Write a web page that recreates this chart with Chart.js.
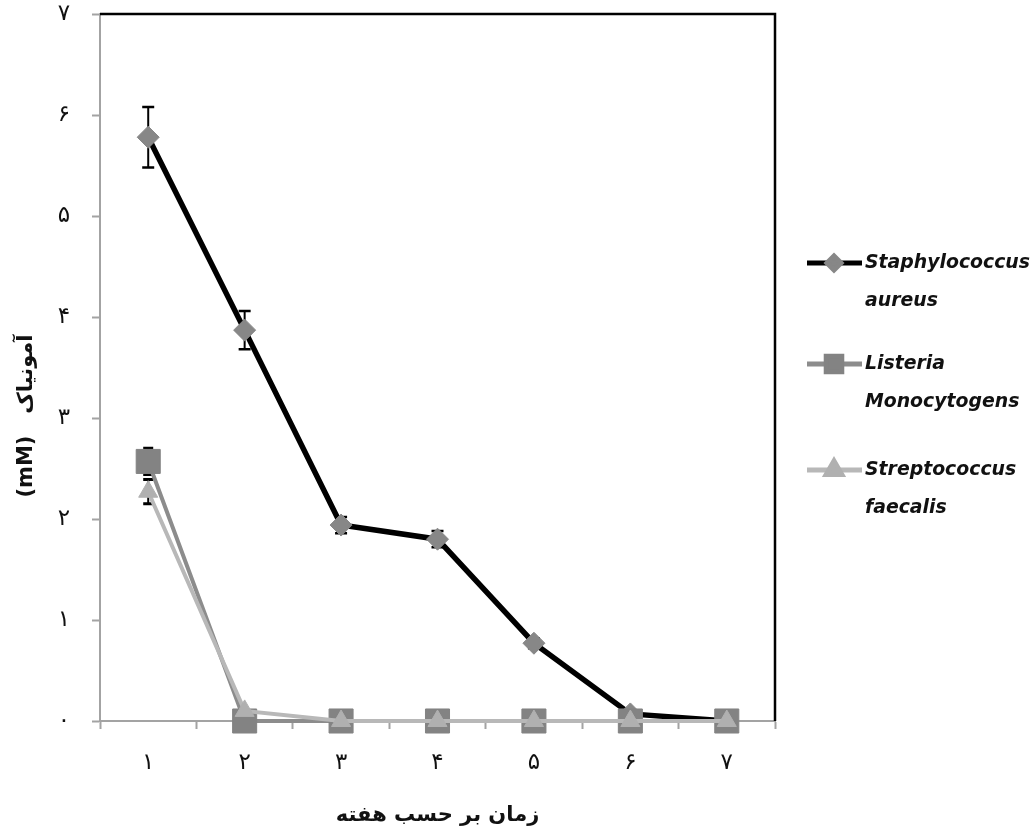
<!DOCTYPE html>
<html>
<head>
<meta charset="utf-8">
<script src="https://cdn.jsdelivr.net/npm/chart.js@4.4.1/dist/chart.umd.min.js"></script>
<style>
  html, body { margin: 0; padding: 0; background: #fff; }
</style>
</head>
<body>
<canvas id="chart" width="1033" height="834"></canvas>
<script>
// week labels (Persian digits) and y tick labels
const weekLabels = ['۱', '۲', '۳', '۴', '۵', '۶', '۷'];
const yTickLabels = ['۰', '۱', '۲', '۳', '۴', '۵', '۶', '۷'];

// ammonia (mM) per week
const staphValues = [5.78, 3.87, 1.94, 1.80, 0.77, 0.07, 0];
const staphErrors = [0.30, 0.19, 0.08, 0.08, 0.05, 0.02, 0];
const listeriaValues = [2.57, 0, 0, 0, 0, 0, 0];
const listeriaErrors = [0.13, 0, 0, 0, 0, 0, 0];
const streptoValues = [2.27, 0.10, 0, 0, 0, 0, 0];
const streptoErrors = [0.12, 0, 0, 0, 0, 0, 0];

const legendNames = [
    ['Staphylococcus', 'aureus'],
    ['Listeria', 'Monocytogens'],
    ['Streptococcus', 'faecalis']
];

const axisGray = '#a3a3a3';
const faFont = '"DejaVu Sans", sans-serif';

// Error bars, drawn under the markers
const errorBars = {
    id: 'errorBars',
    beforeDatasetsDraw(chart) {
        const { ctx, scales: { x, y } } = chart;
        chart.data.datasets.forEach(ds => {
            if (!ds.errors) return;
            ctx.save();
            ctx.strokeStyle = '#000';
            ds.data.forEach((v, j) => {
                const e = ds.errors[j];
                if (!e) return;
                const px = x.getPixelForValue(j);
                const top = y.getPixelForValue(v + e);
                const bot = y.getPixelForValue(v - e);
                ctx.lineWidth = 2;
                ctx.beginPath();
                ctx.moveTo(px, top);
                ctx.lineTo(px, bot);
                ctx.stroke();
                ctx.lineWidth = ds.capWidth;
                ctx.beginPath();
                ctx.moveTo(px - ds.capHalf, top);
                ctx.lineTo(px + ds.capHalf, top);
                ctx.moveTo(px - ds.capHalf, bot);
                ctx.lineTo(px + ds.capHalf, bot);
                ctx.stroke();
            });
            ctx.restore();
        });
    }
};

// black plot border on top and right, y title, legend
const decorations = {
    id: 'decorations',
    afterDraw(chart) {
        const { ctx, chartArea: a } = chart;
        ctx.save();
        ctx.strokeStyle = '#000';
        ctx.lineWidth = 2.5;
        ctx.beginPath();
        ctx.moveTo(a.left, a.top);
        ctx.lineTo(a.right, a.top);
        ctx.lineTo(a.right, a.bottom);
        ctx.stroke();

        // y axis title
        ctx.save();
        ctx.translate(27, 416);
        ctx.rotate(-Math.PI / 2);
        ctx.fillStyle = '#111';
        ctx.font = 'bold 21px ' + faFont;
        ctx.textAlign = 'center';
        ctx.textBaseline = 'middle';
        ctx.fillText('(mM)   آمونیاک', 0, 0);
        ctx.restore();

        // legend
        const rows = [263, 364, 470];
        const gap = 38;
        ctx.font = 'italic bold 20px ' + faFont;
        const sx = Math.min(1, 165 / ctx.measureText('Staphylococcus').width);
        chart.data.datasets.forEach((ds, i) => {
            const y = rows[i];
            ctx.strokeStyle = ds.borderColor;
            ctx.lineWidth = 5;
            ctx.beginPath();
            ctx.moveTo(807, y);
            ctx.lineTo(862, y);
            ctx.stroke();
            ctx.fillStyle = ds.pointBackgroundColor;
            ctx.strokeStyle = ds.pointBackgroundColor;
            Chart.helpers.drawPoint(ctx, {
                pointStyle: ds.pointStyle,
                radius: ds.legendRadius,
                rotation: 0,
                borderWidth: 1
            }, 834, y);
            ctx.fillStyle = '#111';
            ctx.textAlign = 'left';
            ctx.textBaseline = 'middle';
            legendNames[i].forEach((t, k) => {
                ctx.save();
                ctx.translate(865, y + k * gap);
                ctx.scale(sx, 1);
                ctx.fillText(t, 0, 0);
                ctx.restore();
            });
        });
        ctx.restore();
    }
};

new Chart(document.getElementById('chart'), {
    type: 'line',
    data: {
        labels: weekLabels,
        datasets: [
            {
                label: 'Staphylococcus aureus',
                data: staphValues,
                errors: staphErrors,
                capWidth: 2.5,
                capHalf: 6,
                borderColor: '#000',
                borderWidth: 5.5,
                pointStyle: 'rectRot',
                pointRadius: 11,
                legendRadius: 7,
                pointBackgroundColor: '#878787',
                pointBorderColor: '#878787',
                pointBorderWidth: 1,
                clip: false,
                order: 3
            },
            {
                label: 'Listeria Monocytogens',
                data: listeriaValues,
                errors: listeriaErrors,
                capWidth: 3,
                capHalf: 5,
                borderColor: '#8c8c8c',
                borderWidth: 4,
                pointStyle: 'rect',
                pointRadius: 17,
                legendRadius: 11,
                pointBackgroundColor: '#838383',
                pointBorderColor: '#838383',
                pointBorderWidth: 1,
                clip: false,
                order: 2
            },
            {
                label: 'Streptococcus faecalis',
                data: streptoValues,
                errors: streptoErrors,
                capWidth: 3,
                capHalf: 5,
                borderColor: '#b8b8b8',
                borderWidth: 4,
                pointStyle: 'triangle',
                pointRadius: 11,
                legendRadius: 9,
                pointBackgroundColor: '#b0b0b0',
                pointBorderColor: '#b0b0b0',
                pointBorderWidth: 1,
                clip: false,
                order: 1
            }
        ]
    },
    options: {
        responsive: false,
        animation: false,
        layout: {
            autoPadding: false,
            padding: { top: 14, right: 258, left: 0, bottom: 0 }
        },
        plugins: {
            legend: { display: false },
            tooltip: { enabled: false }
        },
        scales: {
            x: {
                offset: true,
                grid: {
                    offset: true,
                    drawOnChartArea: false,
                    tickLength: 8,
                    tickColor: axisGray,
                    tickWidth: 2
                },
                border: { color: axisGray, width: 2 },
                ticks: {
                    font: { family: faFont, size: 23 },
                    color: '#111',
                    padding: 20,
                    maxRotation: 0
                },
                title: {
                    display: true,
                    text: 'زمان بر حسب هفته',
                    font: { family: faFont, size: 21, weight: 'bold' },
                    color: '#111',
                    padding: { top: 0, bottom: 6 }
                },
                afterFit(s) {
                    s.height = 113;
                    s.paddingLeft = 0;
                    s.paddingRight = 0;
                }
            },
            y: {
                min: 0,
                max: 7,
                ticks: {
                    stepSize: 1,
                    callback: v => yTickLabels[v],
                    font: { family: faFont, size: 23 },
                    color: '#111',
                    padding: 22
                },
                grid: {
                    drawOnChartArea: false,
                    tickLength: 8,
                    tickColor: axisGray,
                    tickWidth: 2
                },
                border: { color: axisGray, width: 2 },
                afterFit(s) {
                    s.width = 100;
                    s.paddingTop = 0;
                    s.paddingBottom = 0;
                }
            }
        }
    },
    plugins: [errorBars, decorations]
});
</script>
</body>
</html>
